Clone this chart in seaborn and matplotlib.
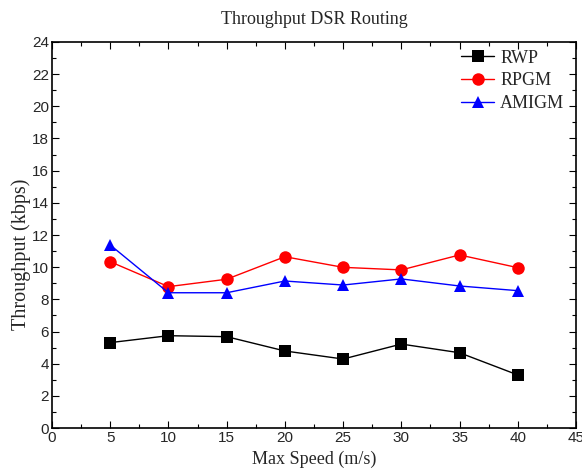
import matplotlib
matplotlib.use("Agg")
import matplotlib.pyplot as plt
import seaborn as sns
import pandas as pd
from matplotlib.ticker import MultipleLocator

speeds = [5, 10, 15, 20, 25, 30, 35, 40]
rwp = [5.31, 5.74, 5.68, 4.79, 4.29, 5.22, 4.68, 3.30]
rpgm = [10.34, 8.79, 9.25, 10.65, 9.99, 9.83, 10.76, 9.97]
amigm = [11.38, 8.41, 8.41, 9.14, 8.89, 9.27, 8.83, 8.54]
series_names = ["RWP", "RPGM", "AMIGM"]

df = pd.DataFrame({
    "speed": speeds * 3,
    "value": rwp + rpgm + amigm,
    "series": sum([[n] * len(speeds) for n in series_names], []),
})

sns.set_style("white")
fig = plt.figure(figsize=(5.82, 4.75), dpi=100)
ax = fig.add_axes([0.0893, 0.0989, 0.9004, 0.8127])

palette = {"RWP": "black", "RPGM": "red", "AMIGM": "blue"}
markers = {"RWP": "s", "RPGM": "o", "AMIGM": "^"}
for name in series_names:
    sub = df[df["series"] == name]
    sns.lineplot(data=sub, x="speed", y="value", ax=ax, color=palette[name],
                 marker=markers[name], markersize=9, markeredgewidth=0,
                 linewidth=1.0, label=name)

ax.set_xlim(0, 45)
ax.set_ylim(0, 24)
ax.xaxis.set_major_locator(MultipleLocator(5))
ax.xaxis.set_minor_locator(MultipleLocator(2.5))
ax.yaxis.set_major_locator(MultipleLocator(2))
ax.yaxis.set_minor_locator(MultipleLocator(1))
ax.tick_params(which="both", direction="in", top=True, right=True, bottom=True, left=True,
               color="black", width=0.8)
ax.tick_params(which="major", length=5, pad=2, labelsize=11)
ax.tick_params(which="minor", length=3)
for lab in ax.get_xticklabels() + ax.get_yticklabels():
    lab.set_fontfamily("Liberation Sans")
for s in ax.spines.values():
    s.set_color("black")
    s.set_linewidth(1.2)

serif = "Liberation Serif"
ax.set_title("Throughput DSR Routing", fontfamily=serif, fontsize=13, pad=13)
ax.set_xlabel("Max Speed (m/s)", fontfamily=serif, fontsize=13, labelpad=4)
ax.set_ylabel("Throughput (kbps)", fontfamily=serif, fontsize=14.5)
ax.yaxis.set_label_coords(-0.04, 0.45)

leg = ax.legend(loc="upper right", bbox_to_anchor=(0.9916, 0.999), frameon=False,
                prop={"family": serif, "size": 13},
                handlelength=1.8, borderaxespad=0, labelspacing=0.32, handletextpad=0.35)

fig.savefig("out.png", dpi=100)
